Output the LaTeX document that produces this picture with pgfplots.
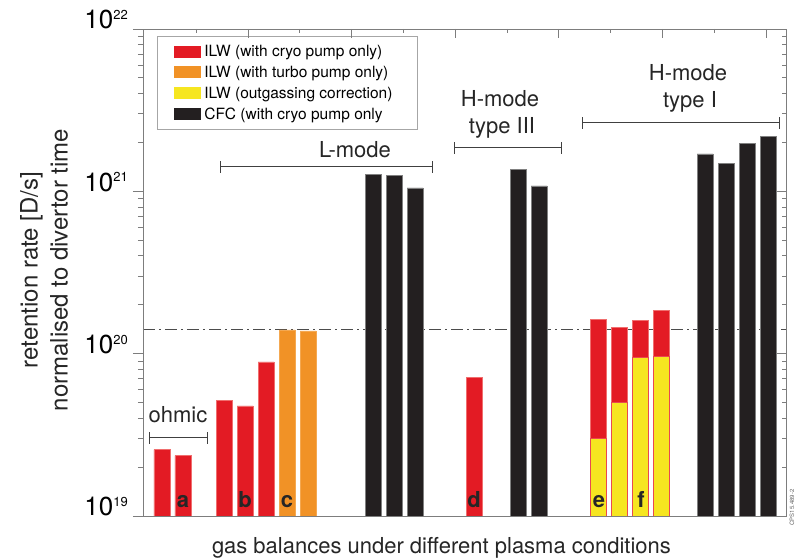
\documentclass[border=0pt]{standalone}
\usepackage{fontspec}
\setmainfont{TeX Gyre Heros}
\usepackage{pgfplots}
\pgfplotsset{compat=1.18}
\definecolor{cRed}{RGB}{227,27,36}
\definecolor{cRedEdge}{RGB}{240,110,110}
\definecolor{cOrange}{RGB}{241,146,38}
\definecolor{cYellow}{RGB}{246,230,32}
\definecolor{cBlack}{RGB}{35,31,32}
\definecolor{cFrame}{RGB}{125,125,125}
\newcommand\tl[1]{10\raisebox{9.5pt}{\fontsize{13}{13}\selectfont #1}}
\pgfplotsset{
  boxlegend/.style={legend image code/.code={\fill[##1, draw=none] (0pt,-6pt) rectangle (27pt,6pt); \path[draw=none, fill=none] (0pt,0pt) -- (28pt,0pt);}},
}
\begin{document}
\begin{tikzpicture}[x=1pt,y=1pt]
\path[use as bounding box] (-143,-42) rectangle (652,516);
\begin{axis}[
  at={(0,0)}, anchor=south west, scale only axis,
  width=643pt, height=487pt,
  xmin=143, xmax=786, ymode=log, ymin=1e19, ymax=1e22, log origin y=infty,
  axis line style={cFrame, line width=0.9pt},
  every tick/.style={cFrame, line width=0.8pt},
  tick align=outside, major tick length=10pt, minor tick length=5pt,
  ytick pos=left, xtick=\empty,
  ytick={1e19,1e20,1e21,1e22},
  yticklabels={\tl{19},\tl{20},\tl{21},\tl{22}},
  yticklabel style={font=\fontsize{26}{26}\selectfont, anchor=base east, inner sep=0pt, xshift=-5pt},
  legend style={at={(rel axis cs:0.0218,0.9856)}, anchor=north west, draw=gray!70, line width=0.6pt,
    font=\fontsize{15.5}{17}\selectfont, inner xsep=17pt, inner ysep=7pt, row sep=4pt},
  legend cell align=left,
  clip=true,
]
\addplot[forget plot, color=black!70, line width=1pt, dash pattern=on 12pt off 4pt on 2pt off 4pt]
  coordinates {(143,1.4e20) (786,1.4e20)};
\addplot[ybar, bar width=16, bar shift=0pt, fill=cRed, draw=cRedEdge, line width=0.6pt, boxlegend]
  coordinates {(162,2.56e19) (183,2.35e19) (224,5.18e19) (245,4.76e19) (266,8.89e19)
               (474,7.15e19) (598,1.63e20) (619,1.446e20) (640,1.60e20) (661,1.84e20)};
\addlegendentry{ILW (with cryo pump only)}
\addplot[ybar, bar width=16, bar shift=0pt, fill=cOrange, draw=cOrange!80!white, line width=0.6pt, boxlegend]
  coordinates {(287,1.40e20) (308,1.38e20)};
\addlegendentry{ILW (with turbo pump only)}
\addplot[ybar, bar width=16, bar shift=0pt, fill=cYellow, draw=cRed!80!white, line width=0.6pt, boxlegend]
  coordinates {(598,3.01e19) (619,4.99e19) (640,9.50e19) (661,9.58e19)};
\addlegendentry{ILW (outgassing correction)\hspace*{6pt}}
\addplot[ybar, bar width=16, bar shift=0pt, fill=cBlack, draw=gray, line width=0.6pt, boxlegend]
  coordinates {(373,1.275e21) (394,1.257e21) (415,1.05e21) (518,1.37e21) (539,1.08e21)
               (705,1.70e21) (726,1.49e21) (747,1.98e21) (768,2.19e21)};
\addlegendentry{CFC (with cryo pump only}
% annotations
\begin{scope}[black!75, line width=1pt]
\draw (axis cs:150,3.04e19) -- (axis cs:207.7,3.04e19);
\draw (axis cs:150,3.04e19) ++(0pt,-6pt) -- ++(0pt,12pt);
\draw (axis cs:207.7,3.04e19) ++(0pt,-6pt) -- ++(0pt,12pt);
\draw (axis cs:220,1.42e21) -- (axis cs:432,1.42e21);
\draw (axis cs:220,1.42e21) ++(0pt,-6pt) -- ++(0pt,12pt);
\draw (axis cs:432,1.42e21) ++(0pt,-6pt) -- ++(0pt,12pt);
\draw (axis cs:454,1.858e21) -- (axis cs:561,1.858e21);
\draw (axis cs:454,1.858e21) ++(0pt,-6pt) -- ++(0pt,12pt);
\draw (axis cs:561,1.858e21) ++(0pt,-6pt) -- ++(0pt,12pt);
\draw (axis cs:582.7,2.65e21) -- (axis cs:779.3,2.65e21);
\draw (axis cs:582.7,2.65e21) ++(0pt,-6pt) -- ++(0pt,12pt);
\draw (axis cs:779.3,2.65e21) ++(0pt,-6pt) -- ++(0pt,12pt);
\end{scope}
\begin{scope}[every node/.style={font=\fontsize{22}{22}\selectfont, text=black!85, inner sep=0pt}]
\node at (axis cs:178,4.19e19) {ohmic};
\node at (axis cs:355,1.80e21) {L-mode};
\node at (axis cs:500,3.71e21) {H-mode};
\node at (axis cs:502,2.46e21) {type III};
\node at (axis cs:688,5.36e21) {H-mode};
\node at (axis cs:690,3.56e21) {type I};
\end{scope}
\begin{scope}[every node/.style={font=\fontsize{22}{22}\selectfont\bfseries, text=black!85, inner sep=0pt, anchor=base}]
\node at (axis cs:183,1.12e19) {a};
\node at (axis cs:245,1.12e19) {b};
\node at (axis cs:287,1.12e19) {c};
\node at (axis cs:474,1.12e19) {d};
\node at (axis cs:599,1.12e19) {e};
\node at (axis cs:641,1.12e19) {f};
\end{scope}
\end{axis}
\begin{axis}[
  at={(0,0)}, anchor=south west, scale only axis,
  width=643pt, height=487pt,
  xmin=143, xmax=786, ymode=log, ymin=1e19, ymax=1e22,
  axis line style={cFrame, line width=0.9pt},
  every tick/.style={cFrame, line width=0.8pt},
  tick align=inside, major tick length=9pt, minor tick length=4.5pt,
  ytick pos=right, yticklabels={},
  ytick={1e19,1e20,1e21,1e22},
  xtick pos=right, xticklabels={},
  xtick={248,351.6,455.2,558.8,662.4,766},
  minor xtick={196.2,299.8,403.4,507,610.6,714.2},
]
\end{axis}
\node[rotate=90, align=center, font=\fontsize{24}{30}\selectfont, text=black!85] at (-99,246) {retention rate [D/s]\\normalised to divertor time};
\node[anchor=base, font=\fontsize{22}{22}\selectfont, text=black!85] at (298.5,-37) {gas balances under different plasma conditions};
\node[rotate=90, font=\fontsize{6}{6}\selectfont, text=gray!80!black, anchor=east] at (649,30) {CPS15.489-2};
\end{tikzpicture}
\end{document}
